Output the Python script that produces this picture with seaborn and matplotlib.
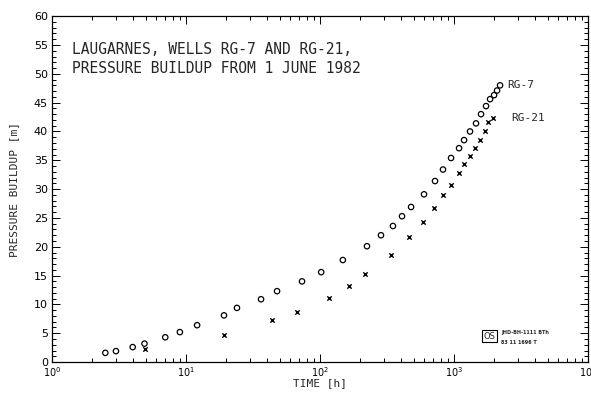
import numpy as np
import pandas as pd
import matplotlib
matplotlib.use("Agg")
import matplotlib.pyplot as plt
import seaborn as sns
from matplotlib.ticker import LogLocator, MultipleLocator, NullFormatter

# dane
czas_rg7 = [2.5, 3.0, 4.0, 4.9, 7.0, 9.0, 12.1, 19.2, 24.0, 36.3, 47.8, 73.4, 102,
            148, 224, 285, 350, 409, 478, 597, 721, 827, 950, 1090, 1188, 1316,
            1459, 1590, 1733, 1857, 1990, 2094, 2205]
cisn_rg7 = [1.6, 1.9, 2.6, 3.2, 4.3, 5.2, 6.4, 8.1, 9.4, 10.9, 12.3, 14.0, 15.6,
            17.7, 20.1, 22.0, 23.6, 25.3, 26.9, 29.1, 31.4, 33.4, 35.4, 37.1, 38.5,
            40.0, 41.4, 43.0, 44.4, 45.6, 46.3, 47.1, 48.0]

czas_rg21 = [4.9, 19.2, 43.8, 67.3, 117, 165, 217, 339, 461, 587, 709, 828, 950,
             1090, 1188, 1316, 1435, 1563, 1703, 1795, 1955]
cisn_rg21 = [2.3, 4.7, 7.3, 8.7, 11.1, 13.2, 15.3, 18.5, 21.7, 24.3, 26.7, 28.9,
             30.8, 32.8, 34.3, 35.7, 37.1, 38.6, 40.0, 41.6, 42.3]

rg7 = pd.DataFrame({"Czas": czas_rg7, "Cisnienie": cisn_rg7})
rg21 = pd.DataFrame({"Czas": czas_rg21, "Cisnienie": cisn_rg21})

sns.set_style("ticks")
plt.rcParams["font.family"] = ["DejaVu Sans"]

fig = plt.figure(figsize=(5.91, 3.94), dpi=100)
ax = fig.add_axes([0.088, 0.081, 0.907, 0.878])

sns.scatterplot(data=rg7, x="Czas", y="Cisnienie", marker="o", s=15,
                facecolor="none", edgecolor="black", linewidth=0.9, ax=ax)
sns.scatterplot(data=rg21, x="Czas", y="Cisnienie", marker="x", s=10,
                color="black", linewidth=1.0, ax=ax)

ax.set_xscale("log")
ax.set_xlim(1, 1e4)
ax.set_ylim(0, 60)
ax.yaxis.set_major_locator(MultipleLocator(5))
ax.yaxis.set_minor_locator(MultipleLocator(1))
ax.xaxis.set_major_locator(LogLocator(base=10))
ax.xaxis.set_minor_locator(LogLocator(base=10, subs=np.arange(2, 10)))
ax.xaxis.set_minor_formatter(NullFormatter())

ax.tick_params(which="both", direction="in", top=True, right=True,
               color="black", width=0.7, labelsize=8, labelcolor="black")
ax.tick_params(which="major", length=6)
ax.tick_params(which="minor", length=3)
ax.tick_params(axis="x", which="both", labelsize=7, pad=2.5)
ax.tick_params(axis="y", which="both", pad=3)
for s in ax.spines.values():
    s.set_linewidth(0.9)
    s.set_color("black")

ax.set_xlabel("TIME [h]", fontsize=8, family="DejaVu Sans Mono")
ax.set_ylabel("PRESSURE BUILDUP [m]", fontsize=8, family="DejaVu Sans Mono")
ax.xaxis.set_label_coords(0.5, -0.047)
ax.yaxis.set_label_coords(-0.062, 0.5)

ax.text(0.037, 0.925, "LAUGARNES, WELLS RG-7 AND RG-21,\nPRESSURE BUILDUP FROM 1 JUNE 1982",
        transform=ax.transAxes, ha="left", va="top", fontsize=10.5,
        family="DejaVu Sans Mono", linespacing=1.35)

ax.text(2500, 48, "RG-7", fontsize=8, family="DejaVu Sans Mono", va="center")
ax.text(2650, 42.3, "RG-21", fontsize=8, family="DejaVu Sans Mono", va="center")

# logo w prawym dolnym rogu
ax.text(0.805, 0.075, "OS", transform=ax.transAxes, fontsize=6, ha="left", va="center",
        bbox=dict(boxstyle="square,pad=0.15", fc="white", ec="black", lw=0.8))
ax.text(0.838, 0.085, "JHD-BH-1111 BTh", transform=ax.transAxes, fontsize=3.5,
        ha="left", va="center", weight="bold")
ax.text(0.838, 0.058, "83 11 1696 T", transform=ax.transAxes, fontsize=3.5,
        ha="left", va="center", weight="bold")

fig.savefig("out.png", dpi=100)
